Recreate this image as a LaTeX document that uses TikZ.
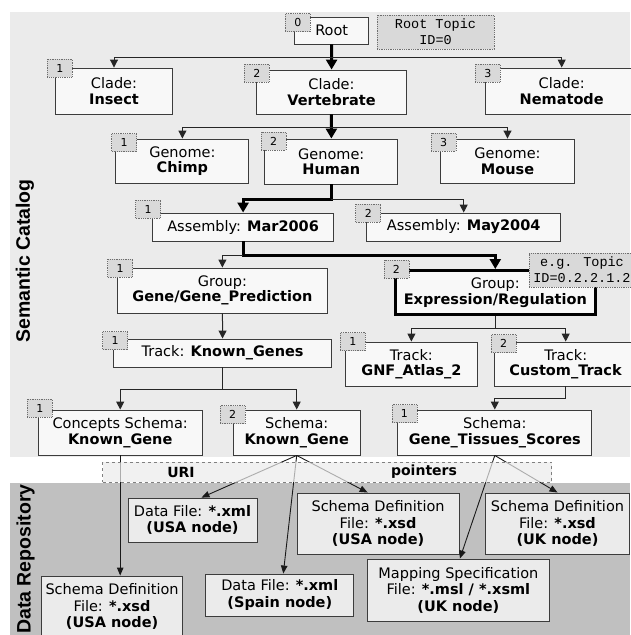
\documentclass[tikz,border=0pt]{standalone}
\usepackage{fontspec}
\setmainfont{DejaVu Sans}
\newfontfamily\labelfont{Liberation Sans}
\newfontfamily\codefont{Liberation Mono}
\usepackage{tikz}
\usetikzlibrary{arrows.meta,calc}
\definecolor{catbg}{RGB}{235,235,235}
\definecolor{repobg}{RGB}{192,192,192}
\definecolor{boxfill}{RGB}{248,248,248}
\definecolor{repofill}{RGB}{235,235,235}
\definecolor{tagfill}{RGB}{217,217,217}
\definecolor{edgeline}{RGB}{60,60,60}
\definecolor{dotline}{RGB}{110,110,110}
\tikzset{
  topicbox/.style={rectangle, draw=edgeline, line width=0.9pt, fill=boxfill,
                   align=center, inner sep=0pt,
                   font=\fontsize{14.5}{15.5}\selectfont},
  filebox/.style={topicbox, fill=repofill, font=\fontsize{14.5}{16.5}\selectfont},
  notebox/.style={rectangle, draw=dotline, densely dotted, line width=0.8pt,
                  fill=tagfill, align=center, inner sep=0pt,
                  font=\codefont\fontsize{13.5}{16}\selectfont},
  numtag/.style={rectangle, draw=dotline, densely dotted, line width=0.8pt,
                 fill=tagfill, minimum width=25pt, minimum height=18pt,
                 inner sep=0pt, font=\fontsize{11}{12}\selectfont},
  sidelabel/.style={rotate=90, inner sep=0pt,
                    font=\labelfont\bfseries\fontsize{19.5}{20}\selectfont},
  uribox/.style={rectangle, draw=gray, dashed, line width=0.8pt, fill=catbg,
                 fill opacity=0.7, minimum width=449pt, minimum height=20pt},
  urilbl/.style={font=\bfseries\fontsize{14}{15}\selectfont, inner sep=0pt},
  arr/.style={-{Triangle[length=8pt,width=8pt]}, line width=1pt, color=black!85},
  thickarr/.style={-{Triangle[length=10pt,width=11pt]}, line width=3pt, color=black},
  ptr/.style={-{Triangle[length=8pt,width=6.5pt]}, line width=0.9pt, color=black!90},
}

\begin{document}
\begin{tikzpicture}[x=1pt,y=-1pt]
  \useasboundingbox (0,0) rectangle (630,635);
  % the two layers
  \fill[catbg] (10,12) rectangle (630,457);
  \fill[repobg] (10,483) rectangle (630,640);
  \node[sidelabel] (catlbl) at (25,261) {Semantic Catalog};
  \node[sidelabel] (repolbl) at (25.5,559) {Data Repository};

  % semantic catalog
  \node[topicbox, minimum width=74pt, minimum height=27pt] (root) at (331.7,30.5) {Root};
  \node[notebox, minimum width=117pt, minimum height=34pt] (rootid) at (435.5,32) {Root Topic\\ID=0};
  \node[topicbox, minimum width=117pt, minimum height=46pt] (insect) at (114,91) {Clade:\\\textbf{Insect}};
  \node[topicbox, minimum width=150pt, minimum height=44pt] (vert) at (331.5,92) {Clade:\\\textbf{Vertebrate}};
  \node[topicbox, minimum width=153pt, minimum height=46pt] (nema) at (561.7,91) {Clade:\\\textbf{Nematode}};
  \node[topicbox, minimum width=133pt, minimum height=44pt] (chimp) at (182.4,161) {Genome:\\\textbf{Chimp}};
  \node[topicbox, minimum width=133pt, minimum height=45pt] (human) at (331.3,161.5) {Genome:\\\textbf{Human}};
  \node[topicbox, minimum width=134pt, minimum height=44pt] (mouse) at (507.5,161) {Genome:\\\textbf{Mouse}};
  \node[topicbox, minimum width=181pt, minimum height=28pt] (mar) at (243.1,227) {Assembly: \textbf{Mar2006}};
  \node[topicbox, minimum width=194pt, minimum height=28pt] (may) at (463.7,227) {Assembly: \textbf{May2004}};
  \node[topicbox, minimum width=210pt, minimum height=45pt] (genepred) at (222.4,290.5) {Group:\\\textbf{Gene/Gene\_Prediction}};
  \node[topicbox, draw=black, line width=3pt, minimum width=200pt, minimum height=44pt] (expr) at (495.3,292.5) {Group:\\\textbf{Expression/Regulation}};
  \node[notebox, minimum width=106pt, minimum height=34pt] (exprid) at (582,270) {e.g. Topic\\ID=0.2.2.1.2};
  \node[topicbox, minimum width=218pt, minimum height=28pt] (known) at (222.6,353) {Track: \textbf{Known\_Genes}};
  \node[topicbox, minimum width=132pt, minimum height=44pt] (gnf) at (411.4,364) {Track:\\\textbf{GNF\_Atlas\_2}};
  \node[topicbox, minimum width=143pt, minimum height=44pt] (custom) at (565.7,364) {Track:\\\textbf{Custom\_Track}};
  \node[topicbox, minimum width=164pt, minimum height=45pt] (concepts) at (120.2,432.5) {Concepts Schema:\\\textbf{Known\_Gene}};
  \node[topicbox, minimum width=127pt, minimum height=45pt] (schemakg) at (296.7,432.5) {Schema:\\\textbf{Known\_Gene}};
  \node[topicbox, minimum width=194pt, minimum height=45pt] (tissues) at (494.8,432.5) {Schema:\\\textbf{Gene\_Tissues\_Scores}};

  % data repository
  \node[filebox, minimum width=129pt, minimum height=44pt] (xmlusa) at (192.5,520) {Data File: \textbf{*.xml}\\\textbf{(USA node)}};
  \node[filebox, minimum width=162pt, minimum height=61pt] (xsdusa) at (378.1,523.5) {Schema Definition\\File: \textbf{*.xsd}\\\textbf{(USA node)}};
  \node[filebox, minimum width=144pt, minimum height=61pt] (xsduk) at (557.5,523.5) {Schema Definition\\File: \textbf{*.xsd}\\\textbf{(UK node)}};
  \node[filebox, minimum width=141pt, minimum height=61pt] (xsdusb) at (112.1,606.5) {Schema Definition\\File: \textbf{*.xsd}\\\textbf{(USA node)}};
  \node[filebox, minimum width=148pt, minimum height=42pt] (xmlspain) at (279.8,595) {Data File: \textbf{*.xml}\\\textbf{(Spain node)}};
  \node[filebox, minimum width=182pt, minimum height=62pt] (msl) at (458.4,590) {Mapping Specification\\File: \textbf{*.msl / *.xsml}\\\textbf{(UK node)}};

  % topic tree
  \draw[thickarr] (root) -- (vert);
  \draw[arr] ($(root.south)+(0,13)$) -| (insect.north);
  \draw[arr] ($(root.south)+(0,13)$) -| (nema.north);
  \draw[thickarr] (vert) -- (human);
  \draw[arr] ($(vert.south)+(0,13)$) -| (chimp.north);
  \draw[arr] ($(vert.south)+(0,13)$) -| (mouse.north);
  \draw[thickarr] (human.south) -- ++(0,15) -| (mar.north);
  \draw[arr] ($(human.south)+(0,15)$) -| (may.north);
  \draw[thickarr] (mar.south) -- ++(0,14) -| (expr.north);
  \draw[arr] ($(mar.south)+(0,14)$) -| (genepred.north);
  \draw[arr] (genepred) -- (known);
  \draw[arr] (expr.south) -- ++(0,12) -| (gnf.north);
  \draw[arr] ($(expr.south)+(0,12)$) -| (custom.north);
  \draw[arr] (known.south) -- ++(0,22) -| (concepts.north);
  \draw[arr] ($(known.south)+(0,22)$) -| (schemakg.north);
  \draw[arr] (custom.south) -- ++(0,12) -| (tissues.north);

  % uri pointers
  \draw[ptr] (concepts.south) -- (concepts.south |- xsdusb.north);
  \draw[ptr] (schemakg.south) -- ($(xmlusa.north)+(9,0)$);
  \draw[ptr] (schemakg.south) -- ($(xsdusa.north)+(-10.5,0)$);
  \draw[ptr] (schemakg.south) -- ($(xmlspain.north)+(3.5,0)$);
  \draw[ptr] (tissues.south) -- ($(msl.north)+(1.5,0)$);
  \draw[ptr] (tissues.south) -- (xsduk.north);
  \node[uribox] (uri) at (327,472) {};
  \node[urilbl] (urit) at (181,472) {URI};
  \node[urilbl] (ptrt) at (424,472) {pointers};

  % topic numbers
  \node[numtag] (n-root) at (297.8,22.5) {0};
  \node[numtag] (n-insect) at (59.9,68) {1};
  \node[numtag] (n-vert) at (256.8,73) {2};
  \node[numtag] (n-nema) at (487.8,73) {3};
  \node[numtag] (n-chimp) at (124.2,142.5) {1};
  \node[numtag] (n-human) at (273.5,141) {2};
  \node[numtag] (n-mouse) at (443.5,142) {3};
  \node[numtag] (n-mar) at (148.2,209) {1};
  \node[numtag] (n-may) at (368.3,213) {2};
  \node[numtag] (n-genepred) at (120.2,268) {1};
  \node[numtag] (n-expr) at (396.4,269) {2};
  \node[numtag] (n-known) at (115.2,340.5) {1};
  \node[numtag] (n-gnf) at (352.8,341.5) {1};
  \node[numtag] (n-custom) at (503.7,343.5) {2};
  \node[numtag] (n-concepts) at (39.8,408) {1};
  \node[numtag] (n-schemakg) at (232.5,414.5) {2};
  \node[numtag] (n-tissues) at (404.4,413.5) {1};
\end{tikzpicture}
\end{document}
